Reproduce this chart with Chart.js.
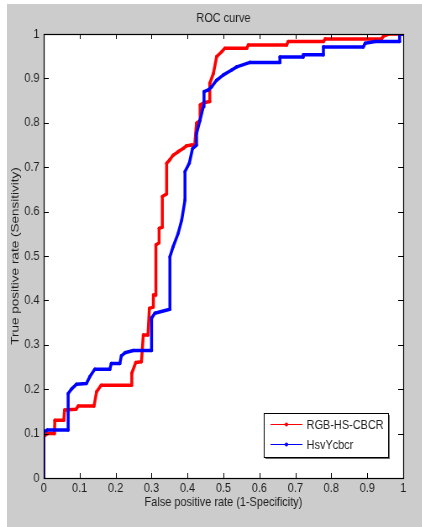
<!DOCTYPE html>
<html>
<head>
<meta charset="utf-8">
<script src="https://cdn.jsdelivr.net/npm/chart.js@4"></script>
<style>
  html, body { margin: 0; padding: 0; background: #fff; overflow: hidden; }
  #wrap { position: absolute; left: 7px; top: 4px; width: 415px; height: 523px; background: #cccccc; }
  /* the reference figure is squeezed sideways, so the canvas is drawn wider and scaled down */
  #myChart { position: absolute; left: 0; top: 0; transform: scaleX(0.84); transform-origin: 0 0; }
</style>
</head>
<body>
<div id="wrap"></div>
<canvas id="myChart" width="502" height="527"></canvas>
<script>
// ROC data (false positive rate, true positive rate)
const redFpr = [0, 0, 0.01, 0.03, 0.031, 0.056, 0.058, 0.09, 0.096, 0.14, 0.147, 0.16, 0.244, 0.245, 0.256, 0.272, 0.277, 0.29, 0.294, 0.305, 0.305, 0.312, 0.312, 0.321, 0.321, 0.33, 0.33, 0.342, 0.342, 0.35, 0.36, 0.374, 0.388, 0.397, 0.411, 0.42, 0.425, 0.435, 0.435, 0.445, 0.462, 0.462, 0.472, 0.481, 0.495, 0.504, 0.565, 0.569, 0.676, 0.68, 0.778, 0.783, 0.94, 0.945, 0.96, 1.0]
const redTpr = [0, 0.093, 0.10, 0.10, 0.13, 0.13, 0.153, 0.155, 0.162, 0.162, 0.194, 0.209, 0.209, 0.236, 0.26, 0.262, 0.322, 0.322, 0.382, 0.385, 0.412, 0.412, 0.525, 0.53, 0.562, 0.565, 0.634, 0.64, 0.709, 0.716, 0.727, 0.735, 0.742, 0.748, 0.75, 0.75, 0.799, 0.805, 0.84, 0.845, 0.848, 0.889, 0.911, 0.949, 0.96, 0.968, 0.968, 0.975, 0.975, 0.983, 0.983, 0.989, 0.989, 0.995, 1.0, 1.0]

const blueFpr = [0, 0, 0.01, 0.068, 0.068, 0.077, 0.091, 0.119, 0.128, 0.142, 0.184, 0.188, 0.212, 0.216, 0.226, 0.249, 0.3, 0.3, 0.309, 0.351, 0.351, 0.36, 0.374, 0.384, 0.393, 0.393, 0.405, 0.414, 0.425, 0.425, 0.435, 0.444, 0.446, 0.458, 0.467, 0.481, 0.5, 0.523, 0.537, 0.574, 0.657, 0.657, 0.722, 0.722, 0.778, 0.778, 0.889, 0.894, 0.922, 0.99, 0.99, 1.0]
const blueTpr = [0, 0.104, 0.108, 0.108, 0.19, 0.2, 0.211, 0.213, 0.228, 0.245, 0.245, 0.258, 0.258, 0.275, 0.282, 0.287, 0.287, 0.36, 0.371, 0.38, 0.498, 0.521, 0.551, 0.581, 0.626, 0.69, 0.709, 0.742, 0.75, 0.776, 0.806, 0.836, 0.87, 0.874, 0.881, 0.896, 0.908, 0.919, 0.926, 0.936, 0.936, 0.948, 0.948, 0.953, 0.953, 0.971, 0.971, 0.979, 0.983, 0.983, 1.0, 1.0]

const seriesNames = ['RGB-HS-CBCR', 'HsvYcbcr']
const seriesColors = ['#ff0000', '#0000ff']
const tickValues = [0, 0.1, 0.2, 0.3, 0.4, 0.5, 0.6, 0.7, 0.8, 0.9, 1]

const FONT = '"Liberation Sans", Arial, sans-serif'
const TXT = '#1e1e1e'

function toPoints(xs, ys) {
  var pts = []
  for (var i = 0; i < xs.length; i++) pts.push({x: xs[i], y: ys[i]})
  return pts
}

// frame, inward ticks, title and legend box (matlab look)
const matlabAxes = {
  id: 'matlabAxes',
  afterDraw(chart) {
    const ctx = chart.ctx
    const a = chart.chartArea
    const sx = chart.scales.x, sy = chart.scales.y
    ctx.save()
    ctx.strokeStyle = '#000'
    ctx.lineWidth = 1
    ctx.beginPath()
    for (const v of tickValues) {
      const px = Math.round(sx.getPixelForValue(v)) + 0.5
      ctx.moveTo(px, a.bottom); ctx.lineTo(px, a.bottom - 5)
      ctx.moveTo(px, a.top); ctx.lineTo(px, a.top + 5)
      const py = Math.round(sy.getPixelForValue(v)) + 0.5
      ctx.moveTo(a.left, py); ctx.lineTo(a.left + 6, py)
      ctx.moveTo(a.right, py); ctx.lineTo(a.right - 6, py)
    }
    ctx.stroke()
    ctx.lineWidth = 1.2
    ctx.strokeRect(Math.round(a.left) + 0.5, Math.round(a.top) + 0.5, Math.round(a.right - a.left), Math.round(a.bottom - a.top))

    // title
    ctx.fillStyle = TXT
    ctx.font = '13px ' + FONT
    ctx.textAlign = 'center'
    ctx.textBaseline = 'middle'
    ctx.fillText('ROC curve', (a.left + a.right) / 2, 18)

    // legend
    const bw = 148, bh = 44
    const bx = a.right - 18 - bw, by = a.bottom - 21 - bh
    ctx.fillStyle = '#6a6a6a'
    ctx.fillRect(bx + 2, by + 2, bw, bh)
    ctx.fillStyle = '#fff'
    ctx.fillRect(bx, by, bw, bh)
    ctx.strokeStyle = '#000'
    ctx.lineWidth = 1
    ctx.strokeRect(bx + 0.5, by + 0.5, bw, bh)
    ctx.textAlign = 'left'
    for (let i = 0; i < seriesNames.length; i++) {
      const ly = by + 11.5 + i * 20
      ctx.strokeStyle = seriesColors[i]
      ctx.lineWidth = 1
      ctx.beginPath()
      ctx.moveTo(bx + 8, ly); ctx.lineTo(bx + 46, ly)
      ctx.stroke()
      ctx.fillStyle = seriesColors[i]
      ctx.beginPath()
      ctx.arc(bx + 27, ly, 2, 0, Math.PI * 2)
      ctx.fill()
      ctx.fillStyle = TXT
      ctx.fillText(seriesNames[i], bx + 51, ly + 1)
    }
    ctx.restore()
  }
}

const plotBg = {
  id: 'plotBg',
  beforeDraw(chart) {
    const a = chart.chartArea
    chart.ctx.save()
    chart.ctx.fillStyle = '#ffffff'
    chart.ctx.fillRect(a.left, a.top, a.right - a.left, a.bottom - a.top)
    chart.ctx.restore()
  }
}

const ctx = document.getElementById('myChart')

new Chart(ctx, {
  type: 'line',
  data: {
    datasets: [{
      label: seriesNames[0],
      data: toPoints(redFpr, redTpr),
      borderColor: seriesColors[0],
      backgroundColor: seriesColors[0],
      borderWidth: 3.5,
      pointRadius: 1.8,
      pointBorderWidth: 0,
      tension: 0,
      order: 1
    },
    {
      label: seriesNames[1],
      data: toPoints(blueFpr, blueTpr),
      borderColor: seriesColors[1],
      backgroundColor: seriesColors[1],
      borderWidth: 3.5,
      pointRadius: 1.8,
      pointBorderWidth: 0,
      tension: 0,
      order: 0
    }]
  },
  options: {
    responsive: false,
    animation: false,
    layout: { padding: { top: 34, right: 22, left: 0, bottom: 0 } },
    plugins: { legend: { display: false }, tooltip: { enabled: false }, title: { display: false } },
    elements: { line: { borderJoinStyle: 'round', borderCapStyle: 'round' } },
    scales: {
      x: {
        type: 'linear',
        min: 0, max: 1,
        afterBuildTicks(scale) { scale.ticks = tickValues.map(v => ({value: v})) },
        afterFit(scale) { scale.height = 49 },
        grid: { display: false, drawTicks: false },
        border: { display: false },
        ticks: { color: TXT, font: { family: FONT, size: 13 }, padding: 3, maxRotation: 0,
                 callback: v => String(Math.round(v * 10) / 10) },
        title: { display: true, text: 'False positive rate (1-Specificity)', color: TXT,
                 font: { family: FONT, size: 13 }, padding: { top: 0, bottom: 17 } }
      },
      y: {
        type: 'linear',
        min: 0, max: 1,
        afterBuildTicks(scale) { scale.ticks = tickValues.map(v => ({value: v})) },
        afterFit(scale) { scale.width = 52 },
        grid: { display: false, drawTicks: false },
        border: { display: false },
        ticks: { color: TXT, font: { family: FONT, size: 13 }, padding: 5,
                 callback: v => String(Math.round(v * 10) / 10) },
        title: { display: true, text: 'True positive rate (Sensitivity)', color: TXT,
                 font: { family: FONT, size: 13.5 }, padding: { top: 10, bottom: 0 } }
      }
    }
  },
  plugins: [plotBg, matlabAxes]
});
</script>
</body>
</html>
